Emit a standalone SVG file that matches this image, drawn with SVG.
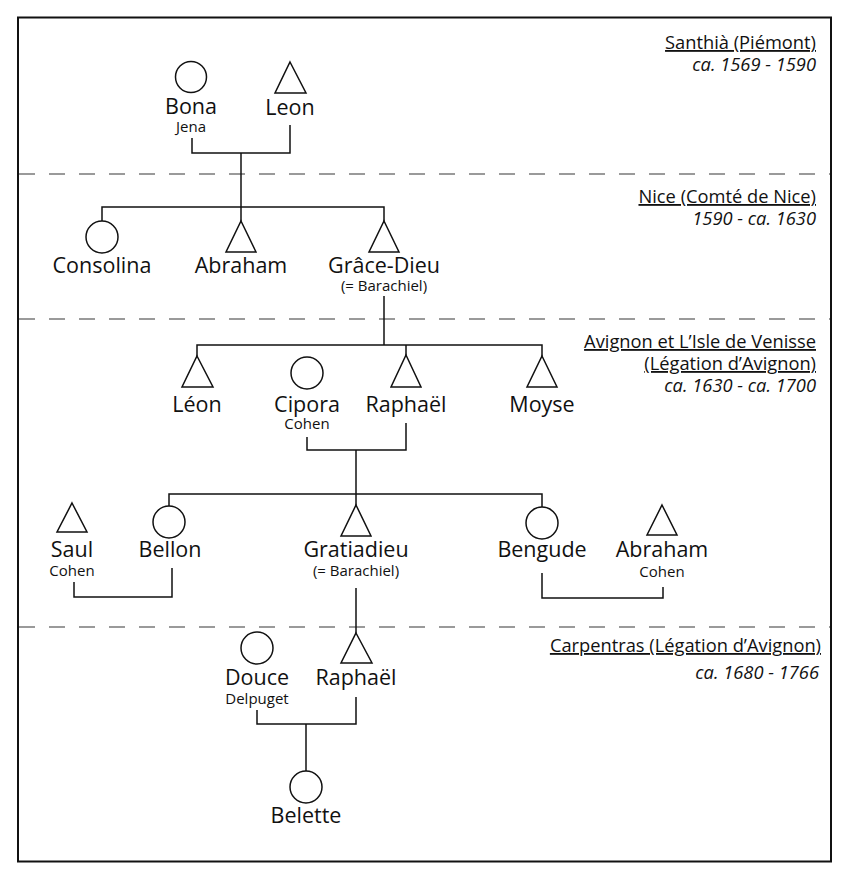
<svg xmlns="http://www.w3.org/2000/svg" width="850" height="881" viewBox="0 0 850 881">
<style>
.shape{fill:none;stroke:#111;stroke-width:1.5}
.ln{fill:none;stroke:#111;stroke-width:1.5}
.sep{stroke:#7a7a7a;stroke-width:1.5;stroke-dasharray:16 14}
text{font-family:"Open Sans","Noto Sans",sans-serif;fill:#111}
.nm{font-size:21.5px;text-anchor:middle}
.sub{font-size:15px;text-anchor:middle}
.reg{font-size:18.3px;text-anchor:end;text-decoration:underline}
.per{font-size:18.3px;text-anchor:end;font-style:italic}
</style>
<rect width="850" height="881" fill="#fff"/>
<rect x="18" y="17.5" width="813" height="844" fill="none" stroke="#111" stroke-width="2"/>
<g id="separators">
<line class="sep" x1="19" y1="174" x2="830" y2="174"/>
<line class="sep" x1="19" y1="319" x2="830" y2="319"/>
<line class="sep" x1="19" y1="627" x2="830" y2="627"/>
</g>
<g id="regions">
<text class="reg" x="816" y="49">Santhià (Piémont)</text>
<text class="per" x="816" y="71">ca. 1569 - 1590</text>
<text class="reg" x="816" y="203">Nice (Comté de Nice)</text>
<text class="per" x="816" y="225">1590 - ca. 1630</text>
<text class="reg" x="816" y="348">Avignon et L’Isle de Venisse</text>
<text class="reg" x="816" y="370">(Légation d’Avignon)</text>
<text class="per" x="816" y="392">ca. 1630 - ca. 1700</text>
<text class="reg" x="821" y="652">Carpentras (Légation d’Avignon)</text>
<text class="per" x="819" y="679">ca. 1680 - 1766</text>
</g>
<g id="connectors">
<path class="ln" d="M192 138V153H290V125"/>
<path class="ln" d="M241 153V221"/>
<path class="ln" d="M102 221V207H384V221"/>
<path class="ln" d="M384 296V345"/>
<path class="ln" d="M197 356V345H542V356"/>
<path class="ln" d="M406 345V355"/>
<path class="ln" d="M307 437V450H406V423"/>
<path class="ln" d="M356 450V505"/>
<path class="ln" d="M169 506V494H542V507"/>
<path class="ln" d="M74 582V597H172V568"/>
<path class="ln" d="M542 573V598H663V587"/>
<path class="ln" d="M356 588V633"/>
<path class="ln" d="M257 710V724H356V697"/>
<path class="ln" d="M306 724V771"/>
</g>
<g id="bona"><circle class="shape" cx="191" cy="77" r="15.5"/><text class="nm" x="191" y="114">Bona</text><text class="sub" x="191" y="132">Jena</text></g>
<g id="leon"><polygon class="shape" points="290,62 306,93 275,93"/><text class="nm" x="290" y="115">Leon</text></g>
<g id="consolina"><circle class="shape" cx="102" cy="237" r="16"/><text class="nm" x="102" y="273">Consolina</text></g>
<g id="abraham1"><polygon class="shape" points="241,221 256,252 226,252"/><text class="nm" x="241" y="273">Abraham</text></g>
<g id="grace-dieu"><polygon class="shape" points="384,221 399,252 369,252"/><text class="nm" x="384" y="273">Grâce-Dieu</text><text class="sub" x="384" y="291">(= Barachiel)</text></g>
<g id="leon2"><polygon class="shape" points="197,356 213,387 182,387"/><text class="nm" x="197" y="412">Léon</text></g>
<g id="cipora"><circle class="shape" cx="307" cy="373" r="16"/><text class="nm" x="307" y="412">Cipora</text><text class="sub" x="307" y="429">Cohen</text></g>
<g id="raphael1"><polygon class="shape" points="406,355 421,387 391,387"/><text class="nm" x="406" y="412">Raphaël</text></g>
<g id="moyse"><polygon class="shape" points="542,356 557,387 527,387"/><text class="nm" x="542" y="412">Moyse</text></g>
<g id="saul"><polygon class="shape" points="72,503 87,532 57,532"/><text class="nm" x="72" y="557">Saul</text><text class="sub" x="72" y="576">Cohen</text></g>
<g id="bellon"><circle class="shape" cx="169" cy="522" r="16"/><text class="nm" x="170" y="557">Bellon</text></g>
<g id="gratiadieu"><polygon class="shape" points="356,505 371,536 341,536"/><text class="nm" x="356" y="557">Gratiadieu</text><text class="sub" x="356" y="576">(= Barachiel)</text></g>
<g id="bengude"><circle class="shape" cx="542" cy="523" r="16"/><text class="nm" x="542" y="557">Bengude</text></g>
<g id="abraham2"><polygon class="shape" points="662,505 677,535 647,535"/><text class="nm" x="662" y="557">Abraham</text><text class="sub" x="662" y="577">Cohen</text></g>
<g id="douce"><circle class="shape" cx="257" cy="648" r="16"/><text class="nm" x="257" y="685">Douce</text><text class="sub" x="257" y="704">Delpuget</text></g>
<g id="raphael2"><polygon class="shape" points="356,633 372,663 341,663"/><text class="nm" x="356" y="685">Raphaël</text></g>
<g id="belette"><circle class="shape" cx="306" cy="787" r="16"/><text class="nm" x="306" y="823">Belette</text></g>
</svg>
